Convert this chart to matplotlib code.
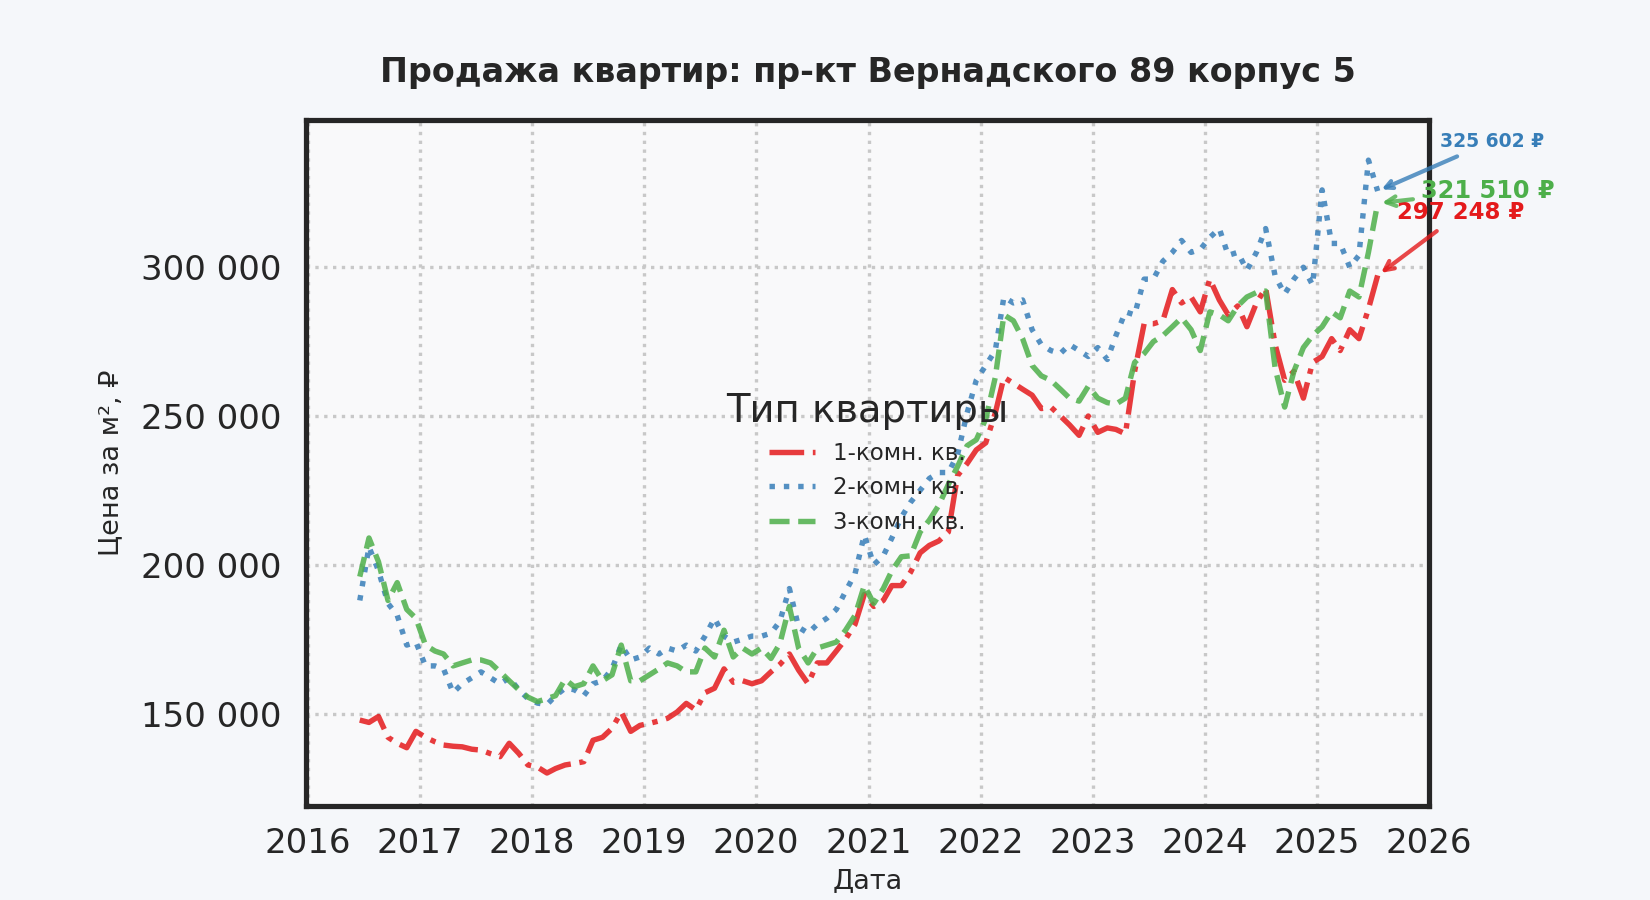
import matplotlib
matplotlib.use("Agg")
import matplotlib.pyplot as plt
import matplotlib.dates as mdates
import matplotlib.ticker as mticker
import pandas as pd

# monthly prices per m2, thousands of rub, from 2016-06 to 2025-07
one_room = [
    147.8, 147.0, 149.0, 142.0, 140.0, 138.5, 144.0,
    142.0, 140.5, 139.4, 139.0, 138.8, 138.0, 137.7, 136.5, 135.5, 140.0, 136.6, 132.7,
    132.0, 130.0, 131.5, 132.7, 133.2, 133.8, 141.0, 142.0, 145.0, 150.5, 144.0, 146.0,
    146.7, 147.5, 148.4, 150.5, 153.4, 151.2, 157.0, 158.5, 165.0, 160.5, 161.0, 160.0,
    161.0, 164.0, 166.5, 170.0, 164.6, 160.0, 167.0, 167.0, 171.0, 175.0, 180.0, 190.0,
    186.0, 188.0, 193.0, 193.0, 197.5, 204.0, 206.5, 208.0, 211.0, 230.0, 234.0, 238.6,
    241.0, 251.0, 263.0, 261.0, 259.0, 257.0, 252.5, 253.0, 250.0, 247.0, 243.5, 250.0,
    244.5, 246.0, 245.5, 244.0, 265.0, 281.0, 281.0, 282.0, 292.5, 288.0, 290.0, 285.0,
    296.0, 289.0, 284.0, 287.0, 280.0, 288.0, 293.0, 274.0, 262.0, 265.0, 256.0, 268.0,
    270.0, 276.0, 272.0, 279.0, 276.0, 286.0, 297.248,
]
two_room = [
    188.0, 206.0, 198.0, 187.0, 183.0, 173.0, 174.0,
    166.0, 166.0, 165.0, 157.0, 160.0, 162.0, 164.0, 162.0, 160.0, 162.0, 158.0, 155.0,
    153.5, 153.0, 156.0, 158.5, 158.0, 156.0, 160.0, 161.0, 165.0, 173.0, 168.0, 169.0,
    172.0, 170.0, 172.0, 171.0, 173.0, 171.0, 176.0, 182.0, 176.0, 174.0, 175.0, 176.0,
    176.0, 177.0, 181.0, 192.0, 179.0, 177.0, 180.0, 182.0, 185.0, 191.0, 197.0, 210.0,
    200.0, 203.0, 209.0, 216.0, 221.0, 225.0, 229.0, 231.0, 231.0, 237.0, 251.0, 262.0,
    267.0, 272.0, 290.0, 288.0, 289.0, 279.0, 274.0, 272.0, 271.0, 274.0, 272.0, 270.0,
    273.0, 269.0, 277.0, 285.0, 284.0, 296.0, 296.0, 302.0, 305.0, 309.0, 305.0, 306.0,
    310.0, 313.0, 304.0, 305.0, 299.0, 305.0, 313.0, 297.0, 291.0, 296.0, 300.0, 294.0,
    326.0, 308.0, 308.0, 300.0, 304.0, 336.0, 325.602,
]
three_room = [
    196.0, 209.0, 201.0, 188.0, 194.0, 185.0, 182.0,
    173.0, 171.0, 170.0, 166.0, 167.0, 168.0, 168.0, 167.0, 164.0, 161.0, 158.0, 155.5,
    154.0, 155.0, 156.0, 161.5, 159.0, 160.0, 166.0, 161.0, 163.0, 173.0, 161.0, 161.0,
    163.0, 165.0, 167.0, 166.0, 164.0, 164.0, 172.0, 169.0, 178.0, 169.0, 172.0, 170.0,
    172.0, 168.5, 173.5, 186.0, 172.0, 167.0, 172.0, 173.0, 174.0, 178.0, 183.0, 193.0,
    187.0, 192.0, 198.0, 202.7, 203.0, 211.0, 215.0, 220.0, 227.0, 233.0, 240.0, 242.0,
    249.0, 263.0, 284.0, 282.0, 276.0, 267.0, 263.5, 262.0, 259.0, 256.0, 255.0, 260.0,
    256.0, 254.5, 254.0, 256.0, 268.0, 271.0, 275.0, 277.0, 280.0, 283.0, 279.0, 272.0,
    285.0, 284.0, 282.0, 287.0, 290.0, 291.5, 292.0, 266.0, 253.0, 265.0, 273.0, 277.0,
    280.0, 285.0, 283.0, 292.0, 290.0, 305.0, 321.51,
]

dates = pd.date_range("2016-06-01", periods=len(one_room), freq="MS") + pd.Timedelta(days=17)

series = [
    ("1-комн. кв.", one_room, "#e41a1c", "-.", (40, 30), 11),
    ("2-комн. кв.", two_room, "#377eb8", ":", (55, 24), 9),
    ("3-комн. кв.", three_room, "#4daf4a", "--", (53, 6), 11.5),
]

fig = plt.figure(figsize=(11, 6), dpi=150, facecolor="#f5f7fa")
ax = fig.add_axes([0.1855, 0.1044, 0.6805, 0.7623])
ax.set_facecolor("#f9f9fa")

for name, vals, color, ls, offset, fs in series:
    y = [v * 1000 for v in vals]
    ax.plot(dates, y, linestyle=ls, color=color, linewidth=2.6, alpha=0.85, label=name)
    last = y[-1]
    ax.annotate(
        f"{last:,.0f} ₽".replace(",", " "),
        xy=(dates[-1], last),
        xytext=offset,
        textcoords="offset points",
        ha="center",
        va="center",
        color=color,
        fontsize=fs,
        fontweight="bold",
        arrowprops=dict(arrowstyle="->", color=color, lw=2, alpha=0.8),
    )

ax.set_xlim(pd.Timestamp("2015-12-26"), pd.Timestamp("2026-01-01"))
ax.set_ylim(118900, 349500)
ax.xaxis.set_major_locator(mdates.YearLocator())
ax.xaxis.set_major_formatter(mdates.DateFormatter("%Y"))
ax.yaxis.set_major_locator(mticker.MultipleLocator(50000))
ax.yaxis.set_major_formatter(mticker.FuncFormatter(lambda v, p: f"{v:,.0f}".replace(",", " ")))

ax.grid(True, linestyle=":", color="#c8c8c8", linewidth=1.6)
ax.tick_params(axis="both", length=0, labelsize=16.3, colors="#262626")
ax.tick_params(axis="y", pad=12)
ax.tick_params(axis="x", pad=10)
for sp in ax.spines.values():
    sp.set_linewidth(2.5)
    sp.set_color("#262626")

ax.set_title("Продажа квартир: пр-кт Вернадского 89 корпус 5", fontsize=16,
             fontweight="bold", color="#262626", pad=18)
ax.set_xlabel("Дата", fontsize=13, color="#262626", labelpad=4)
ax.set_ylabel("Цена за м², ₽", fontsize=13, color="#262626", labelpad=8)

leg = ax.legend(title="Тип квартиры", loc="center", frameon=False, fontsize=11,
                title_fontsize=18.5)
for t in leg.get_texts():
    t.set_color("#262626")
leg.get_title().set_color("#262626")

fig.savefig("out.png", dpi=150, facecolor=fig.get_facecolor())
